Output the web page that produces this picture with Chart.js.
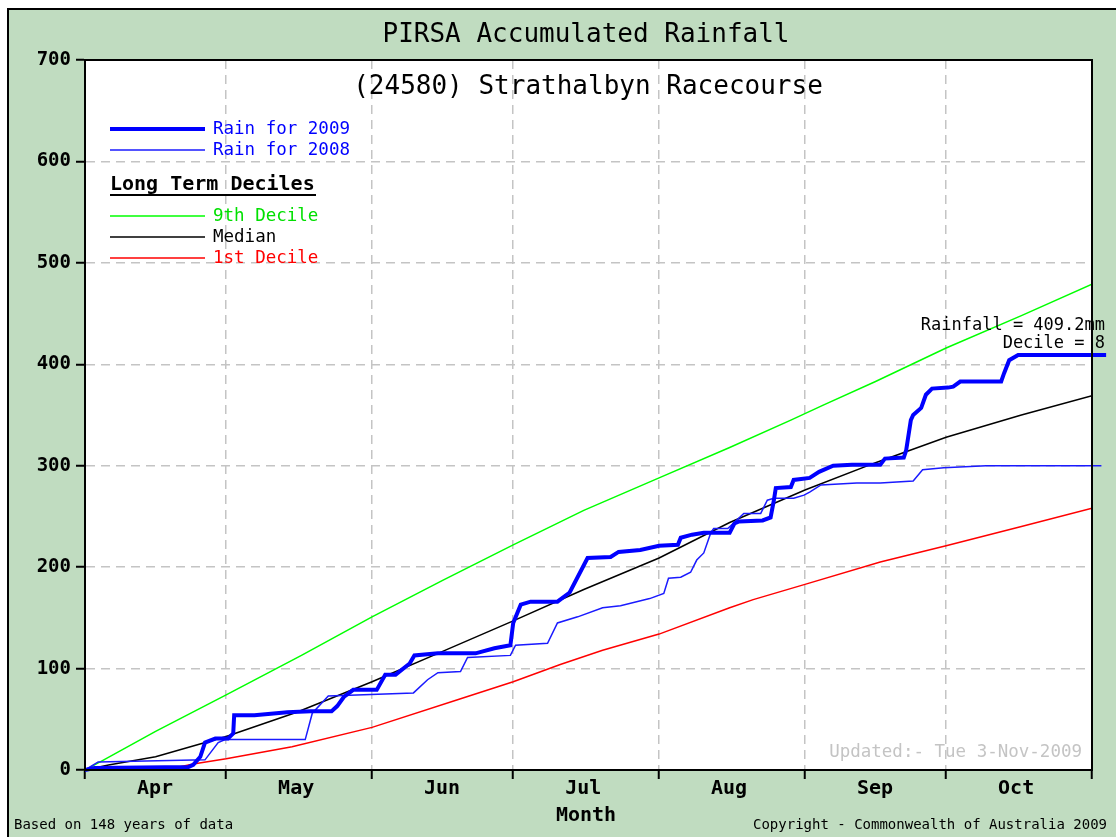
<!DOCTYPE html>
<html>
<head>
<meta charset="utf-8">
<title>PIRSA Accumulated Rainfall</title>
<script src="https://cdn.jsdelivr.net/npm/chart.js@4.4.0/dist/chart.umd.min.js"></script>
<style>
  html, body { margin: 0; padding: 0; background: #fff; }
  #wrap { width: 1116px; height: 837px; }
</style>
</head>
<body>
<div id="wrap"><canvas id="rain-chart" width="1116" height="837"></canvas></div>
<script>
/* ============================================================
   ACCUMULATED RAINFALL — STRATHALBYN RACECOURSE
   x = days since 1 April, y = accumulated mm
   ============================================================ */

// month boundaries (days since 1 Apr) and their labels
const monthStarts = [0, 30, 61, 91, 122, 153, 183, 214];
const monthNames  = ['Apr', 'May', 'Jun', 'Jul', 'Aug', 'Sep', 'Oct'];
const yTicks      = [0, 100, 200, 300, 400, 500, 600, 700];

// [day, mm]
const rain2009 = [
  [0, 0], [2, 2], [22, 3], [23, 5], [24.5, 13], [25.5, 27], [27.7, 31], [30.4, 31],
  [31.5, 36], [31.7, 54], [36, 54], [43, 57], [48, 58], [52.4, 58], [53.6, 63],
  [55, 72], [57, 79], [62, 79], [63.8, 94], [66, 94], [69, 105], [70, 113],
  [75, 115], [83, 115], [87, 120], [90.4, 123], [91, 145], [92.6, 163], [94.7, 166],
  [100.4, 166], [103, 175], [106.8, 209], [111.7, 210], [113.4, 215], [118, 217],
  [122, 221], [126, 222], [126.6, 229], [129, 232], [131.5, 234], [137, 234],
  [138, 243], [139, 245], [144, 246], [145.7, 249], [146.4, 266], [146.8, 278],
  [150, 279], [150.6, 286], [154, 288], [156, 294], [159, 300], [163, 301],
  [169, 301], [170, 307], [174, 308], [174.5, 315], [175.5, 345], [176, 350],
  [177.7, 357], [178.7, 370], [180, 376], [183.4, 377], [184.5, 378], [186, 383],
  [194.7, 383], [195.3, 391], [196.4, 404], [198.3, 409.2], [217, 409.2],
];

const rain2008 = [
  [0, 0], [2.8, 8], [25.5, 10], [28.3, 27], [29.8, 30], [46.8, 30], [48.3, 56],
  [51.7, 73], [69.8, 76], [72.8, 89], [75, 96], [79.8, 97], [81.3, 111], [90.4, 113],
  [91.5, 123], [98.3, 125], [100.4, 145], [104.7, 151], [110, 160], [113.8, 162],
  [120, 169], [123, 174], [124, 189], [126.6, 190], [128.7, 195], [130, 207],
  [131.5, 214], [133, 234], [133.6, 238], [136.6, 238], [140, 253], [143.6, 253],
  [145, 266], [146.4, 268], [150.6, 268], [152.8, 271], [154, 274], [156.4, 281],
  [164, 283], [169, 283], [176, 285], [178, 296], [182.5, 298], [191.5, 300], [216, 300],
];

const decile9 = [
  [0, 0], [4, 10], [15, 38], [30, 74], [46, 113], [61, 151], [76, 187], [91, 222],
  [106, 256], [122, 288], [137, 318], [150, 345], [157, 360], [168, 383], [183, 416],
  [199, 448], [214, 479],
];

const median = [
  [0, 0], [5, 5], [15, 13], [30, 33], [45, 57], [61, 87], [76, 117], [91, 147],
  [106, 178], [122, 209], [137, 244], [153, 276], [168, 303], [183, 328], [199, 350],
  [214, 369],
];

const decile1 = [
  [0, 0], [16, 0], [20, 3], [23, 6], [30, 11], [44, 23], [61, 42], [79, 69], [91, 87],
  [101, 104], [110, 118], [122, 134], [137, 160], [142, 168], [153, 183], [169, 205],
  [183, 221], [199, 240], [214, 258],
];

const MONO = "'DejaVu Sans Mono', 'Liberation Mono', monospace";
const toPoints = (arr) => arr.map(([x, y]) => ({ x, y }));

function lineSet(label, arr, color, width, extra) {
  return Object.assign({
    label,
    data: toPoints(arr),
    borderColor: color,
    borderWidth: width,
    pointRadius: 0,
    tension: 0,
    fill: false,
  }, extra || {});
}

// backgrounds, frame, title, legend and notes
const decorPlugin = {
  id: 'decor',
  beforeDraw(chart) {
    const { ctx, chartArea: a, width, height } = chart;
    ctx.save();
    ctx.fillStyle = '#ffffff';
    ctx.fillRect(0, 0, width, height);
    ctx.fillStyle = '#c0dcc0';
    ctx.fillRect(8, 9, width - 8, height - 9);
    ctx.fillStyle = '#000';
    ctx.fillRect(7, 8, 2, height - 8);
    ctx.fillRect(7, 8, width - 7, 2);
    ctx.fillStyle = '#ffffff';
    ctx.fillRect(a.left, a.top, a.right - a.left, a.bottom - a.top);
    ctx.restore();
  },
  afterDraw(chart) {
    const { ctx, chartArea: a } = chart;
    ctx.save();
    ctx.strokeStyle = '#000';
    ctx.lineWidth = 2;
    ctx.strokeRect(a.left, a.top, a.right - a.left, a.bottom - a.top);

    const text = (s, x, y, font, color, align) => {
      ctx.font = font;
      ctx.fillStyle = color;
      ctx.textAlign = align || 'left';
      ctx.textBaseline = 'middle';
      ctx.fillText(s, x, y);
    };

    text('PIRSA Accumulated Rainfall', 586, 35, `26px ${MONO}`, '#000', 'center');
    text('(24580) Strathalbyn Racecourse', 588, 87, `26px ${MONO}`, '#000', 'center');

    // legend
    const legend = [
      { y: 129, w: 4,   color: '#0000ff', label: 'Rain for 2009', tc: '#0000ff' },
      { y: 150, w: 1.5, color: '#1a1aff', label: 'Rain for 2008', tc: '#0000ff' },
      { y: 216, w: 1.5, color: '#00ff00', label: '9th Decile',    tc: '#00e000' },
      { y: 237, w: 1.5, color: '#000000', label: 'Median',        tc: '#000000' },
      { y: 258, w: 1.5, color: '#ff0000', label: '1st Decile',    tc: '#ff0000' },
    ];
    legend.forEach(l => {
      ctx.strokeStyle = l.color;
      ctx.lineWidth = l.w;
      ctx.beginPath();
      ctx.moveTo(110, l.y);
      ctx.lineTo(205, l.y);
      ctx.stroke();
      text(l.label, 213, l.y, `17.5px ${MONO}`, l.tc);
    });
    text('Long Term Deciles', 110, 185, `bold 20px ${MONO}`, '#000');
    ctx.fillStyle = '#000';
    ctx.fillRect(110, 194, 206, 2);

    // end-of-series note
    text('Rainfall = 409.2mm', 1105, 326, `17px ${MONO}`, '#000', 'right');
    text('Decile = 8', 1105, 344, `17px ${MONO}`, '#000', 'right');
    text('Updated:- Tue 3-Nov-2009', 1082, 752, `17.5px ${MONO}`, '#c4c4c4', 'right');

    text('Month', 586, 816, `bold 20px ${MONO}`, '#000', 'center');
    text('Based on 148 years of data', 14, 825, `14px ${MONO}`, '#000');
    text('Copyright - Commonwealth of Australia 2009', 1107, 825, `14px ${MONO}`, '#000', 'right');
    ctx.restore();
  },
};

function renderChart() {
  const el = document.getElementById('rain-chart');
  if (!el) return;

  new Chart(el, {
    type: 'line',
    data: {
      datasets: [
        lineSet('Rain for 2009', rain2009, '#0000ff', 4, { clip: false }),
        lineSet('Rain for 2008', rain2008, '#1a1aff', 1.5, { clip: false }),
        lineSet('Median', median, '#000000', 1.5),
        lineSet('1st Decile', decile1, '#ff0000', 1.5),
        lineSet('9th Decile', decile9, '#00ff00', 1.5),
      ],
    },
    options: {
      responsive: false,
      animation: false,
      layout: { padding: { left: 0, right: 24, top: 60, bottom: 0 } },
      plugins: {
        legend: { display: false },
        tooltip: { enabled: false },
      },
      scales: {
        x: {
          type: 'linear',
          min: 0,
          max: 214,
          afterBuildTicks: (s) => { s.ticks = monthStarts.map(v => ({ value: v })); },
          afterFit: (s) => { s.height = 67; },
          grid: {
            color: '#c4c4c4',
            lineWidth: 1.5,
            tickColor: '#000',
            tickLength: 9,
            tickWidth: 2,
            tickBorderDash: [],
          },
          border: { display: true, color: '#000', width: 2, dash: [9, 6] },
          ticks: {
            autoSkip: false,
            maxRotation: 0,
            labelOffset: 70,
            padding: 0,
            color: '#000',
            font: { family: MONO, size: 20, weight: 'bold', lineHeight: 1 },
            callback: (v, i) => monthNames[i] || '',
          },
        },
        y: {
          min: 0,
          max: 700,
          afterBuildTicks: (s) => { s.ticks = yTicks.map(v => ({ value: v })); },
          afterFit: (s) => { s.width = 85; },
          grid: {
            color: '#c4c4c4',
            lineWidth: 1.5,
            tickColor: '#000',
            tickLength: 9,
            tickWidth: 2,
            tickBorderDash: [],
          },
          border: { display: true, color: '#000', width: 2, dash: [9, 6] },
          ticks: {
            padding: 5,
            color: '#000',
            font: { family: MONO, size: 19, weight: 'bold' },
          },
        },
      },
    },
    plugins: [decorPlugin],
  });
}

renderChart();
</script>
</body>
</html>
